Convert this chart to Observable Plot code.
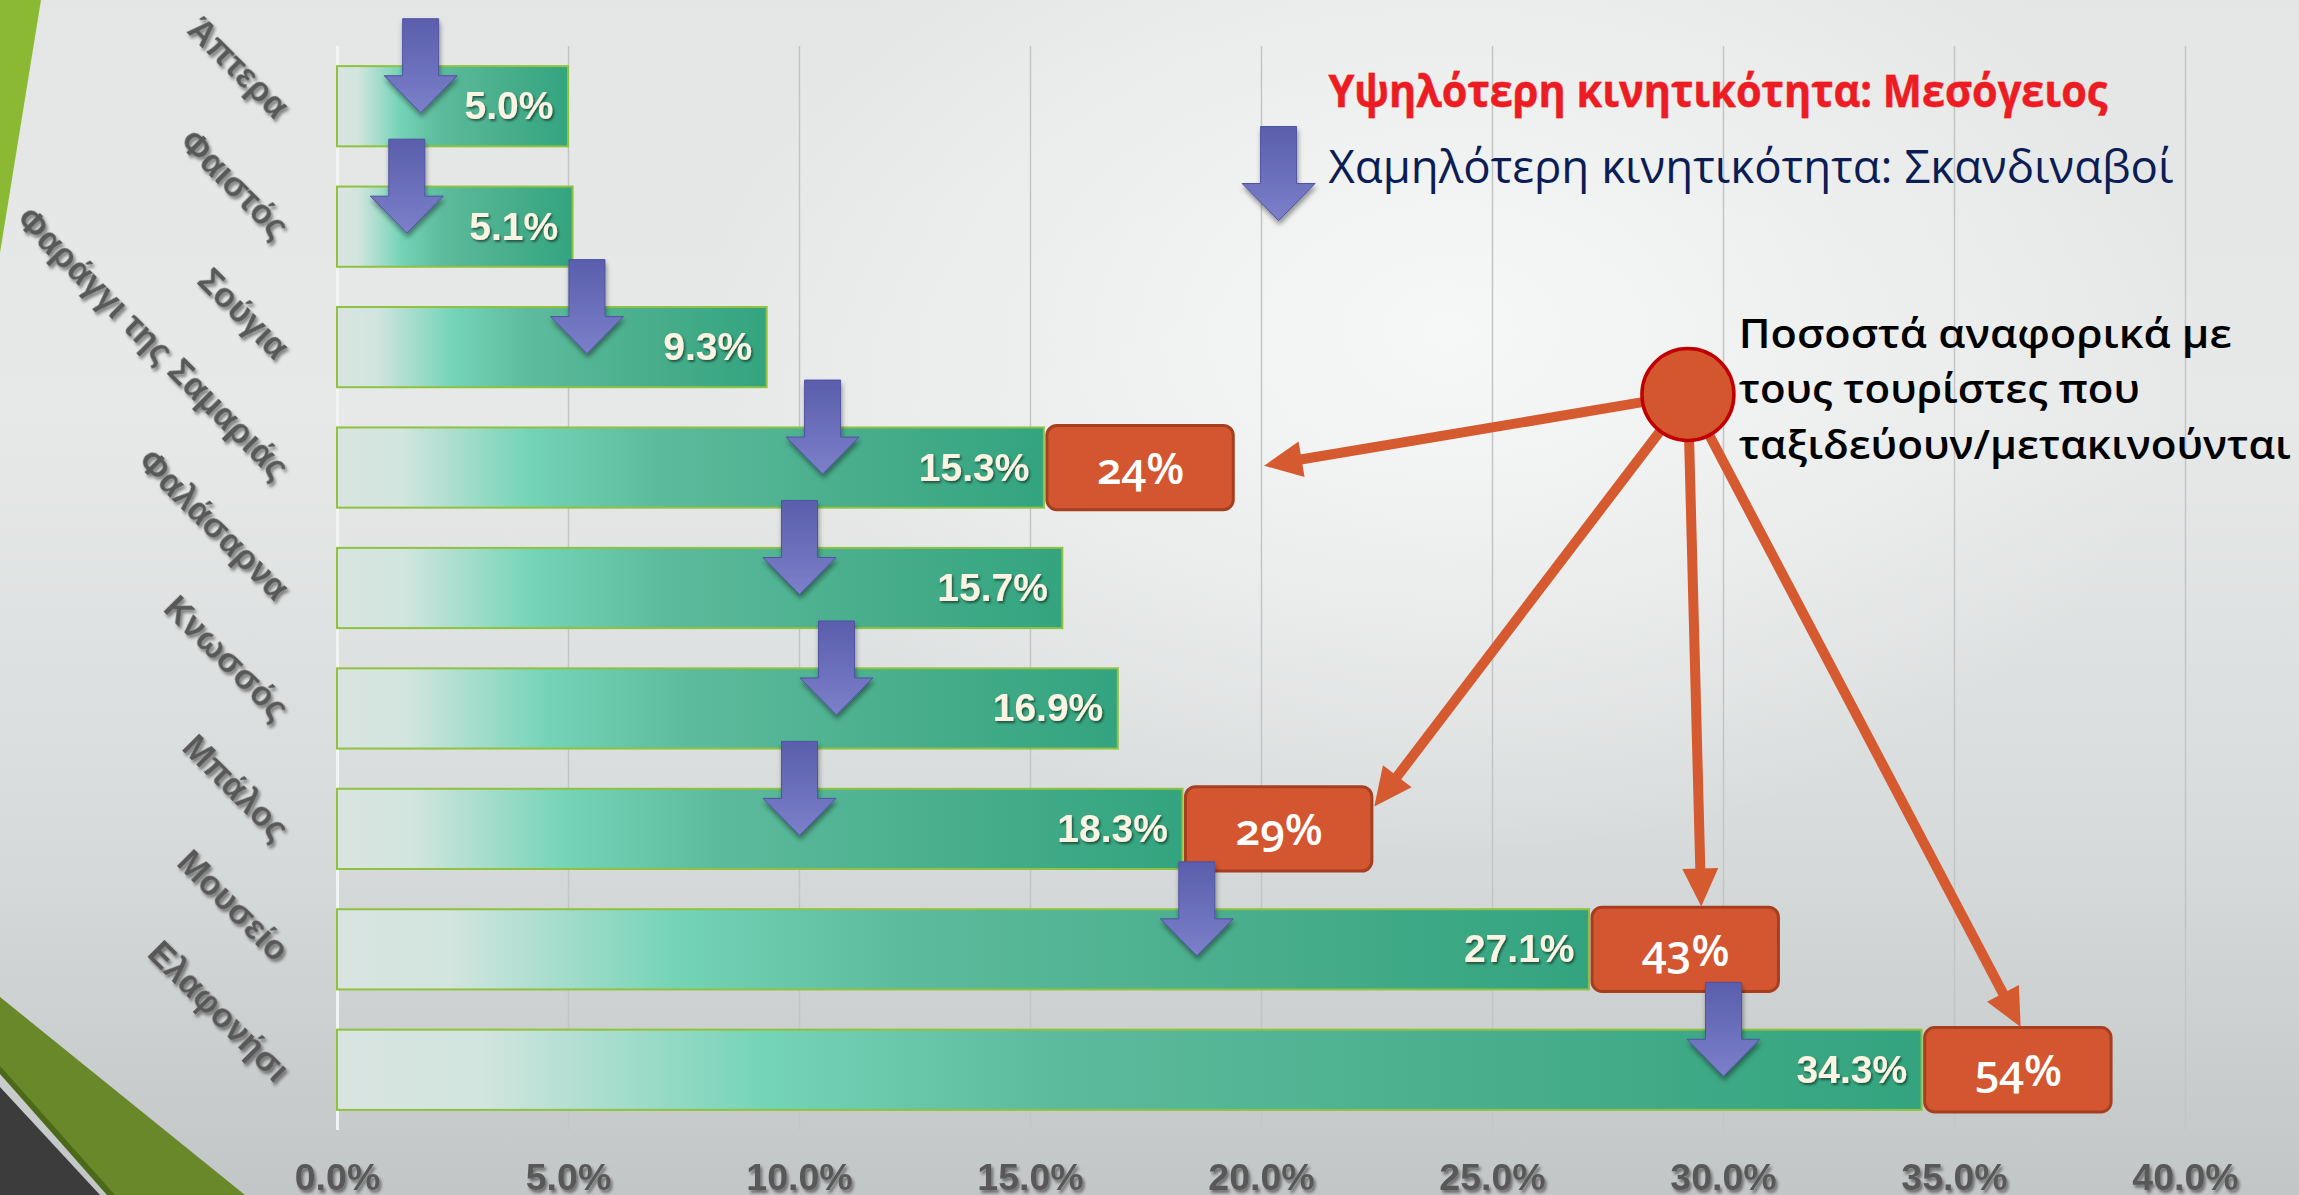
<!DOCTYPE html>
<html lang="el">
<head>
<meta charset="utf-8">
<title>Κινητικότητα τουριστών</title>
<script src="https://cdn.jsdelivr.net/npm/d3@7"></script>
<script src="https://cdn.jsdelivr.net/npm/@observablehq/plot@0.6"></script>
<style>
html, body { margin:0; padding:0; }
body {
  width:2299px; height:1195px; overflow:hidden; position:relative;
  background:
    radial-gradient(ellipse 1000px 700px at 1450px 330px, rgba(247,248,248,0.95) 0%, rgba(247,248,248,0) 75%),
    linear-gradient(180deg, #e4e6e6 0%, #e7e9e9 35%, #d8dbdb 70%, #c3c6c7 100%);
}
.deco { position:absolute; }
#deco-top  { left:0; top:0; width:41px; height:253px; background:#8cb933; clip-path:polygon(0 0, 100% 0, 0 100%); }
#deco-band { left:0; top:997px; width:245px; height:198px; background:#68882a; clip-path:polygon(0 0, 100% 100%, 46% 100%, 0 36%); }
#deco-edge { left:0; top:1066px; width:115px; height:129px; background:#4b6919; clip-path:polygon(0 0, 100% 100%, 93% 100%, 0 6.2%); }
#deco-dark { left:0; top:1087px; width:100px; height:108px; background:#3c3c3c; clip-path:polygon(0 0, 100% 100%, 0 100%); }
#chart { position:absolute; left:0; top:0; }
g[aria-label="x-axis tick label"] text { filter:url(#txtShadow); }
g[aria-label="y-axis tick label"] text { filter:url(#rotShadow); }
text.vlab { filter:url(#valShadow); }
text.blab { font-variant-numeric: oldstyle-nums; }
g[aria-label="dot"][fill="url(#blueGrad)"] path { filter:url(#arrowShadow); }
</style>
</head>
<body>
<svg width="0" height="0" style="position:absolute">
  <defs>
    <linearGradient id="barGrad" x1="0" x2="1" y1="0" y2="0">
      <stop offset="0" stop-color="#d9e4e1"/>
      <stop offset="0.09" stop-color="#d2e5df"/>
      <stop offset="0.27" stop-color="#74d4b7"/>
      <stop offset="0.45" stop-color="#5cbb9c"/>
      <stop offset="0.75" stop-color="#47ad8b"/>
      <stop offset="1" stop-color="#33a47f"/>
    </linearGradient>
    <linearGradient id="blueGrad" x1="0" x2="0" y1="0" y2="1">
      <stop offset="0" stop-color="#5a5eac"/>
      <stop offset="1" stop-color="#7c80ca"/>
    </linearGradient>
    <filter id="txtShadow" x="-20%" y="-30%" width="140%" height="170%">
      <feDropShadow dx="2" dy="3" stdDeviation="1.5" flood-color="#000" flood-opacity="0.45"/>
    </filter>
    <filter id="rotShadow" x="-20%" y="-40%" width="140%" height="180%">
      <feDropShadow dx="3.5" dy="0.7" stdDeviation="1.5" flood-color="#000" flood-opacity="0.45"/>
    </filter>
    <filter id="valShadow" x="-20%" y="-30%" width="140%" height="170%">
      <feDropShadow dx="1.5" dy="2" stdDeviation="1.2" flood-color="#000" flood-opacity="0.5"/>
    </filter>
    <filter id="arrowShadow" x="-30%" y="-20%" width="160%" height="150%">
      <feDropShadow dx="1" dy="4" stdDeviation="2.5" flood-color="#000" flood-opacity="0.4"/>
    </filter>
  </defs>
</svg>
<div class="deco" id="deco-top"></div>
<div class="deco" id="deco-band"></div>
<div class="deco" id="deco-edge"></div>
<div class="deco" id="deco-dark"></div>
<div id="chart"></div>
<script>
// ---- data ----
const categories = ["Άπτερα", "Φαιστός", "Σούγια", "Φαράγγι της Σαμαριάς", "Φαλάσαρνα", "Κνωσσός", "Μπάλος", "Μουσείο", "Ελαφονήσι"];
const allShares = [5.0, 5.1, 9.3, 15.3, 15.7, 16.9, 18.3, 27.1, 34.3];
const scandiShares = [1.8, 1.5, 5.4, 10.5, 10.0, 10.8, 10.0, 18.6, 30.0];
const travellerPlaces = ["Φαράγγι της Σαμαριάς", "Μπάλος", "Μουσείο", "Ελαφονήσι"];
const travellerShares = [24, 29, 43, 54];
const xTicks = [0, 5, 10, 15, 20, 25, 30, 35, 40];
const xTickLabels = ["0.0%", "5.0%", "10.0%", "15.0%", "20.0%", "25.0%", "30.0%", "35.0%", "40.0%"];
const legendHigh = "Υψηλότερη κινητικότητα: Μεσόγειος";
const legendLow = "Χαμηλότερη κινητικότητα: Σκανδιναβοί";
const noteLines = ["Ποσοστά αναφορικά με", "τους τουρίστες που", "ταξιδεύουν/μετακινούνται"];

// ---- derived tables ----
const rows = categories.map((name, i) => ({name, i, all: allShares[i], scandi: scandiShares[i]}));
const BOX_W = 4.1;     // box width in % units
const boxes = travellerPlaces.map((name, k) => {
  const row = categories.indexOf(name);
  return {row, base: allShares[row], pct: travellerShares[k]};
});
const hub = {x: 29.23, y: 2.39};
const tipFx = [1.16, 1.01, 0.59, 0.52];
const tipFy = [-0.02, -0.19, -0.36, -0.36];
const callouts = boxes.map((b, k) => ({x1: hub.x, y1: hub.y, x2: b.base + BOX_W * tipFx[k], y2: b.row + tipFy[k]}));
const legendArrow = [{x: 20.37, y: 0.895}];
const legendText = [
  {text: legendHigh, x: 21.45, y: 0.0},
  {text: legendLow, x: 21.45, y: 0.63}
];
const noteText = noteLines.map((t, i) => ({text: t, x: 30.33, y: 2.0 + i * 0.461}));

// block-arrow symbol (tip slightly below the origin)
const arrowSymbol = {
  draw(ctx) {
    const tip = 6, total = 94, headH = 37, sw = 18, hw = 36.5;
    const top = tip - total, headTop = tip - headH;
    ctx.moveTo(-sw, top);
    ctx.lineTo(sw, top);
    ctx.lineTo(sw, headTop);
    ctx.lineTo(hw, headTop);
    ctx.lineTo(0, tip);
    ctx.lineTo(-hw, headTop);
    ctx.lineTo(-sw, headTop);
    ctx.closePath();
  }
};
// filled arrowhead pointing up, tip at the origin
const headSymbol = {
  draw(ctx) {
    ctx.moveTo(0, 0);
    ctx.lineTo(18, 38);
    ctx.lineTo(-18, 38);
    ctx.closePath();
  }
};

function build(heads) {
  return Plot.plot({
    width: 2299,
    height: 1195,
    marginLeft: 337,
    marginRight: 114,
    marginTop: 46,
    marginBottom: 65,
    style: {background: "transparent", fontFamily: "'Liberation Sans', Arial, sans-serif", overflow: "visible"},
    x: {domain: [0, 40]},
    y: {domain: [-0.5, 8.5], reverse: true},
    marks: [
      Plot.gridX(xTicks, {stroke: "#c2c4c5", strokeOpacity: 1, strokeWidth: 1.5}),
      Plot.ruleX([0], {stroke: "#f2f3f3", strokeWidth: 3}),
      Plot.axisX({ticks: xTicks, tickFormat: d => xTickLabels[xTicks.indexOf(d)], tickSize: 0, tickPadding: 33,
        fontSize: 37.5, fontWeight: "bold", color: "#595959", label: null}),
      Plot.axisY({ticks: rows.map(d => d.i), tickFormat: i => categories[i], tickSize: 0, tickPadding: 55,
        tickRotate: 45, textAnchor: "end", fontSize: 34.5, fontWeight: "bold", color: "#595959", dy: 6, label: null}),
      Plot.rect(rows, {x1: () => 0, x2: "all", y1: d => d.i - 0.333, y2: d => d.i + 0.333,
        fill: "url(#barGrad)", stroke: "#8fc23f", strokeWidth: 2}),
      Plot.text(rows, {x: "all", y: "i", text: d => d.all.toFixed(1) + "%", textAnchor: "end", dx: -15,
        fill: "#fcf4e2", fontSize: 39, fontWeight: "bold"}),
      Plot.rect(boxes, {x1: "base", x2: d => d.base + BOX_W, y1: d => d.row - 0.35, y2: d => d.row + 0.35,
        insetLeft: 3, rx: 10, fill: "#d45630", stroke: "#a53f1f", strokeWidth: 3}),
      Plot.text(boxes, {x: d => d.base + BOX_W / 2, y: "row", dx: 1.5, dy: 2, text: d => d.pct + "%",
        fill: "white", fontSize: 44, fontWeight: 600, fontFamily: "'Open Sans', sans-serif"}),
      Plot.dot(rows, {x: "scandi", y: "i", symbol: arrowSymbol, r: 1, fill: "url(#blueGrad)", stroke: "#4f53a3", strokeWidth: 1}),
      Plot.arrow(callouts, {x1: "x1", y1: "y1", x2: "x2", y2: "y2", stroke: "#d55a30", strokeWidth: 10,
        headLength: 0, insetStart: 46, insetEnd: 22, strokeLinecap: "butt"}),
      Plot.dot(heads, {x: "x", y: "y", rotate: "angle", symbol: headSymbol, r: 1, fill: "#d55a30", stroke: "none"}),
      Plot.dot([hub], {x: "x", y: "y", r: 46, fill: "#d4562f", stroke: "#c00000", strokeWidth: 3.5}),
      Plot.dot(legendArrow, {x: "x", y: "y", symbol: arrowSymbol, r: 1, fill: "url(#blueGrad)", stroke: "#4f53a3", strokeWidth: 1}),
      Plot.text(legendText.slice(0, 1), {x: "x", y: "y", text: "text", textAnchor: "start", lineAnchor: "bottom",
        fill: "#ec1c24", stroke: "#f26a5a", strokeWidth: 0.8, fontSize: 44, fontWeight: 700, fontFamily: "'Open Sans', sans-serif"}),
      Plot.text(legendText.slice(1), {x: "x", y: "y", text: "text", textAnchor: "start", lineAnchor: "bottom",
        fill: "#0c1d55", fontSize: 46, fontWeight: 500, fontFamily: "'Open Sans', sans-serif"}),
      Plot.text(noteText, {x: "x", y: "y", text: "text", textAnchor: "start", lineAnchor: "bottom",
        fill: "#000000", fontSize: 40, fontWeight: 600, fontFamily: "'Open Sans', sans-serif"})
    ]
  });
}

// first pass: read the plot's own scales to orient the arrowheads
const draft = build([]);
const sx = draft.scale("x"), sy = draft.scale("y");
const heads = callouts.map(c => {
  const dx = sx.apply(c.x2) - sx.apply(c.x1);
  const dy = sy.apply(c.y2) - sy.apply(c.y1);
  return {x: c.x2, y: c.y2, angle: Math.atan2(dx, -dy) * 180 / Math.PI};
});
const plot = build(heads);

document.getElementById("chart").append(plot);

// text fitting and classes
const fitWidths = {};
fitWidths[legendHigh] = 779;
fitWidths[legendLow] = 845;
fitWidths[noteLines[0]] = 493;
fitWidths[noteLines[1]] = 401;
fitWidths[noteLines[2]] = 552;
plot.querySelectorAll('g[aria-label="text"] text').forEach(t => {
  const s = t.textContent;
  if (/^\d+\.\d%$/.test(s)) t.classList.add("vlab");
  else if (/^\d+%$/.test(s)) t.classList.add("blab");
  if (fitWidths[s]) {
    t.setAttribute("textLength", fitWidths[s]);
    t.setAttribute("lengthAdjust", "spacingAndGlyphs");
  }
});
</script>
</body>
</html>
